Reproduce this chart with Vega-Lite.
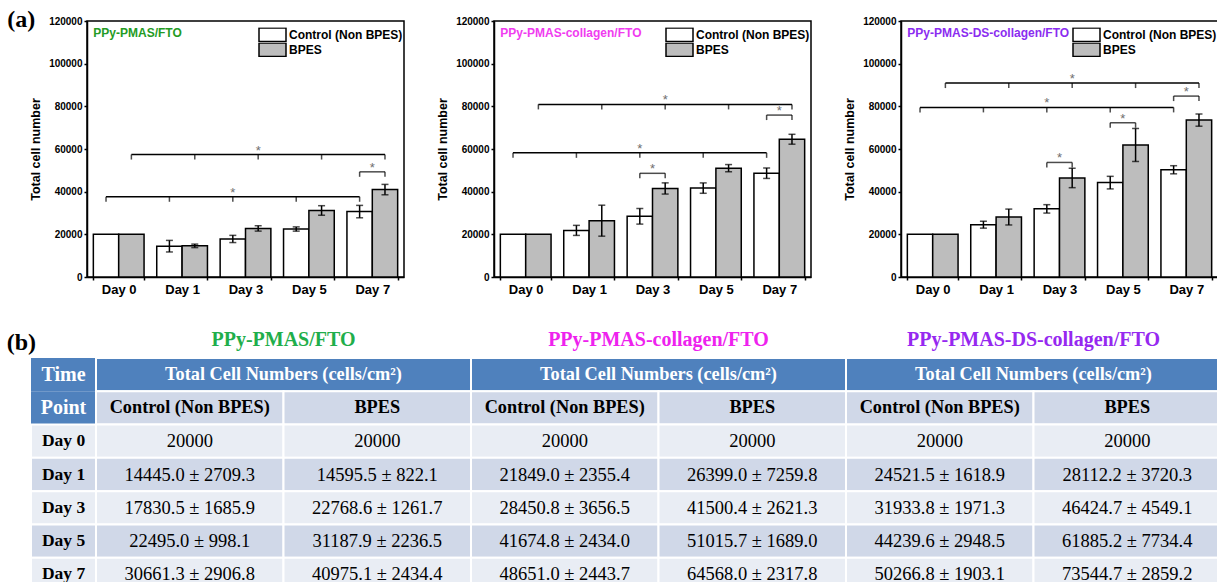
{
  "$schema": "https://vega.github.io/schema/vega-lite/v6.json",
  "background": "white",
  "padding": {"left": 6, "top": 7, "right": 0, "bottom": 0},
  "config": {
    "view": {"stroke": "black", "strokeWidth": 1.5},
    "font": "Liberation Sans",
    "axis": {"labelFont": "Liberation Sans", "labelFontWeight": "bold", "labelColor": "black", "titleFont": "Liberation Sans", "titleFontWeight": "bold", "titleColor": "black", "domainColor": "black", "tickColor": "black", "grid": false},
    "legend": {"title": null, "orient": "none", "legendX": 171, "legendY": 6.5, "symbolType": "M-1,-0.5H1V0.5H-1Z", "symbolSize": 729, "symbolStrokeColor": "black", "symbolStrokeWidth": 1.5, "labelFont": "Liberation Sans", "labelFontWeight": "bold", "labelFontSize": 12, "labelColor": "black", "rowPadding": 0, "clipHeight": 14.5, "labelOffset": 2}
  },
  "datasets": {
    "bars": [
      {"panel": "P1", "Day": "Day 0", "Group": "Control (Non BPES)", "mean": 20000, "sd": 0},
      {"panel": "P1", "Day": "Day 0", "Group": "BPES", "mean": 20000, "sd": 0},
      {"panel": "P1", "Day": "Day 1", "Group": "Control (Non BPES)", "mean": 14445.0, "sd": 2709.3},
      {"panel": "P1", "Day": "Day 1", "Group": "BPES", "mean": 14595.5, "sd": 822.1},
      {"panel": "P1", "Day": "Day 3", "Group": "Control (Non BPES)", "mean": 17830.5, "sd": 1685.9},
      {"panel": "P1", "Day": "Day 3", "Group": "BPES", "mean": 22768.6, "sd": 1261.7},
      {"panel": "P1", "Day": "Day 5", "Group": "Control (Non BPES)", "mean": 22495.0, "sd": 998.1},
      {"panel": "P1", "Day": "Day 5", "Group": "BPES", "mean": 31187.9, "sd": 2236.5},
      {"panel": "P1", "Day": "Day 7", "Group": "Control (Non BPES)", "mean": 30661.3, "sd": 2906.8},
      {"panel": "P1", "Day": "Day 7", "Group": "BPES", "mean": 40975.1, "sd": 2434.4},
      {"panel": "P2", "Day": "Day 0", "Group": "Control (Non BPES)", "mean": 20000, "sd": 0},
      {"panel": "P2", "Day": "Day 0", "Group": "BPES", "mean": 20000, "sd": 0},
      {"panel": "P2", "Day": "Day 1", "Group": "Control (Non BPES)", "mean": 21849.0, "sd": 2355.4},
      {"panel": "P2", "Day": "Day 1", "Group": "BPES", "mean": 26399.0, "sd": 7259.8},
      {"panel": "P2", "Day": "Day 3", "Group": "Control (Non BPES)", "mean": 28450.8, "sd": 3656.5},
      {"panel": "P2", "Day": "Day 3", "Group": "BPES", "mean": 41500.4, "sd": 2621.3},
      {"panel": "P2", "Day": "Day 5", "Group": "Control (Non BPES)", "mean": 41674.8, "sd": 2434.0},
      {"panel": "P2", "Day": "Day 5", "Group": "BPES", "mean": 51015.7, "sd": 1689.0},
      {"panel": "P2", "Day": "Day 7", "Group": "Control (Non BPES)", "mean": 48651.0, "sd": 2443.7},
      {"panel": "P2", "Day": "Day 7", "Group": "BPES", "mean": 64568.0, "sd": 2317.8},
      {"panel": "P3", "Day": "Day 0", "Group": "Control (Non BPES)", "mean": 20000, "sd": 0},
      {"panel": "P3", "Day": "Day 0", "Group": "BPES", "mean": 20000, "sd": 0},
      {"panel": "P3", "Day": "Day 1", "Group": "Control (Non BPES)", "mean": 24521.5, "sd": 1618.9},
      {"panel": "P3", "Day": "Day 1", "Group": "BPES", "mean": 28112.2, "sd": 3720.3},
      {"panel": "P3", "Day": "Day 3", "Group": "Control (Non BPES)", "mean": 31933.8, "sd": 1971.3},
      {"panel": "P3", "Day": "Day 3", "Group": "BPES", "mean": 46424.7, "sd": 4549.1},
      {"panel": "P3", "Day": "Day 5", "Group": "Control (Non BPES)", "mean": 44239.6, "sd": 2948.5},
      {"panel": "P3", "Day": "Day 5", "Group": "BPES", "mean": 61885.2, "sd": 7734.4},
      {"panel": "P3", "Day": "Day 7", "Group": "Control (Non BPES)", "mean": 50266.8, "sd": 1903.1},
      {"panel": "P3", "Day": "Day 7", "Group": "BPES", "mean": 73544.7, "sd": 2859.2}
    ],
    "brackets": [
      {"panel": "P1", "Group": "Control (Non BPES)", "from": "Day 0", "to": "Day 7", "star": "Day 3", "y": 37600, "days": ["Day 0", "Day 1", "Day 3", "Day 5", "Day 7"]},
      {"panel": "P1", "Group": "BPES", "from": "Day 0", "to": "Day 7", "star": "Day 3", "y": 57400, "days": ["Day 0", "Day 1", "Day 3", "Day 5", "Day 7"]},
      {"panel": "P2", "Group": "Control (Non BPES)", "from": "Day 0", "to": "Day 7", "star": "Day 3", "y": 58200, "days": ["Day 0", "Day 1", "Day 3", "Day 5", "Day 7"]},
      {"panel": "P2", "Group": "BPES", "from": "Day 0", "to": "Day 7", "star": "Day 3", "y": 80900, "days": ["Day 0", "Day 1", "Day 3", "Day 5", "Day 7"]},
      {"panel": "P3", "Group": "Control (Non BPES)", "from": "Day 0", "to": "Day 7", "star": "Day 3", "y": 79500, "days": ["Day 0", "Day 1", "Day 3", "Day 5", "Day 7"]},
      {"panel": "P3", "Group": "BPES", "from": "Day 0", "to": "Day 7", "star": "Day 3", "y": 90900, "days": ["Day 0", "Day 1", "Day 3", "Day 5", "Day 7"]}
    ],
    "pairs": [
      {"panel": "P1", "Day": "Day 7", "y": 49300, "groups": ["Control (Non BPES)", "BPES"]},
      {"panel": "P2", "Day": "Day 3", "y": 48600, "groups": ["Control (Non BPES)", "BPES"]},
      {"panel": "P2", "Day": "Day 7", "y": 75900, "groups": ["Control (Non BPES)", "BPES"]},
      {"panel": "P3", "Day": "Day 3", "y": 53700, "groups": ["Control (Non BPES)", "BPES"]},
      {"panel": "P3", "Day": "Day 5", "y": 72300, "groups": ["Control (Non BPES)", "BPES"]},
      {"panel": "P3", "Day": "Day 7", "y": 84800, "groups": ["Control (Non BPES)", "BPES"]}
    ],
    "titles": [
      {"panel": "P1", "t": "PPy-PMAS/FTO"},
      {"panel": "P2", "t": "PPy-PMAS-collagen/FTO"},
      {"panel": "P3", "t": "PPy-PMAS-DS-collagen/FTO"}
    ],
    "tcol": [
      {"row": "H1", "t": "Time"},
      {"row": "H2", "t": "Point"},
      {"row": "Day 0", "t": "Day 0"},
      {"row": "Day 1", "t": "Day 1"},
      {"row": "Day 3", "t": "Day 3"},
      {"row": "Day 5", "t": "Day 5"},
      {"row": "Day 7", "t": "Day 7"}
    ]
  },
  "vconcat": [
    {
      "hconcat": [
        {
          "width": 56, "height": 256,
          "view": {"stroke": null},
          "data": {"values": []},
          "mark": "point"
        },
        {
          "hconcat": [
            {
              "width": 317, "height": 256,
              "layer": [
                {
                  "data": {"name": "bars"}, "transform": [{"filter": "datum.panel === 'P1'"}],
                  "mark": {"type": "bar", "stroke": "black", "strokeWidth": 1.5},
                  "encoding": {
                    "x": {"field": "Day", "type": "nominal", "scale": {"domain": ["Day 0", "Day 1", "Day 3", "Day 5", "Day 7"], "paddingInner": 0.2, "paddingOuter": 0.1}, "axis": {"title": null, "labelAngle": 0, "labelFontSize": 13, "labelPadding": 3, "tickBand": "extent", "tickSize": 3, "tickWidth": 1.5, "domainWidth": 1.5}},
                    "xOffset": {"field": "Group", "type": "nominal", "scale": {"domain": ["Control (Non BPES)", "BPES"], "paddingInner": 0, "paddingOuter": 0}},
                    "y": {"field": "mean", "type": "quantitative", "title": "Total cell number", "scale": {"domain": [0, 120000], "nice": false}, "axis": {"title": "Total cell number", "values": [0, 20000, 40000, 60000, 80000, 100000, 120000], "format": "d", "labelFontSize": 10, "titleFontSize": 12.5, "tickSize": 3, "tickWidth": 1.5, "labelPadding": 2, "titlePadding": 6, "domainWidth": 1.5}},
                    "fill": {"field": "Group", "type": "nominal", "scale": {"domain": ["Control (Non BPES)", "BPES"], "range": ["white", "#bdbdbd"]}, "legend": {}}
                  }
                },
                {
                  "data": {"name": "bars"}, "transform": [{"filter": "datum.panel === 'P1' && datum.sd > 0"}],
                  "mark": {"type": "errorbar", "ticks": true, "color": "black", "thickness": 1.5, "size": 7},
                  "encoding": {"x": {"field": "Day", "type": "nominal"}, "xOffset": {"field": "Group", "type": "nominal"}, "y": {"field": "mean", "type": "quantitative", "title": "Total cell number"}, "yError": {"field": "sd"}}
                },
                {
                  "data": {"name": "brackets"}, "transform": [{"filter": "datum.panel === 'P1' && datum.Group !== 'BPES'"}],
                  "mark": {"type": "rule", "color": "black", "strokeWidth": 1.5},
                  "encoding": {"x": {"field": "from", "type": "nominal", "bandPosition": 0.25}, "x2": {"field": "to", "bandPosition": 0.25}, "y": {"field": "y", "type": "quantitative"}}
                },
                {
                  "data": {"name": "brackets"}, "transform": [{"filter": "datum.panel === 'P1' && datum.Group === 'BPES'"}],
                  "mark": {"type": "rule", "color": "black", "strokeWidth": 1.5},
                  "encoding": {"x": {"field": "from", "type": "nominal", "bandPosition": 0.75}, "x2": {"field": "to", "bandPosition": 0.75}, "y": {"field": "y", "type": "quantitative"}}
                },
                {
                  "data": {"name": "brackets"}, "transform": [{"filter": "datum.panel === 'P1'"}, {"flatten": ["days"]}],
                  "mark": {"type": "tick", "orient": "vertical", "color": "black", "size": 5, "thickness": 1.5, "yOffset": 2.5},
                  "encoding": {"x": {"field": "days", "type": "nominal"}, "xOffset": {"field": "Group", "type": "nominal"}, "y": {"field": "y", "type": "quantitative"}}
                },
                {
                  "data": {"name": "pairs"}, "transform": [{"filter": "datum.panel === 'P1'"}],
                  "mark": {"type": "tick", "orient": "horizontal", "color": "black", "size": 25.4, "thickness": 1.5},
                  "encoding": {"x": {"field": "Day", "type": "nominal"}, "y": {"field": "y", "type": "quantitative"}}
                },
                {
                  "data": {"name": "pairs"}, "transform": [{"filter": "datum.panel === 'P1'"}, {"flatten": ["groups"]}],
                  "mark": {"type": "tick", "orient": "vertical", "color": "black", "size": 5, "thickness": 1.5, "yOffset": 2.5},
                  "encoding": {"x": {"field": "Day", "type": "nominal"}, "xOffset": {"field": "groups", "type": "nominal"}, "y": {"field": "y", "type": "quantitative"}}
                },
                {
                  "data": {"name": "brackets"}, "transform": [{"filter": "datum.panel === 'P1'"}],
                  "mark": {"type": "text", "text": "*", "fontSize": 13, "color": "#6e6e6e", "baseline": "alphabetic"},
                  "encoding": {"x": {"field": "star", "type": "nominal"}, "xOffset": {"field": "Group", "type": "nominal"}, "y": {"field": "y", "type": "quantitative"}}
                },
                {
                  "data": {"name": "pairs"}, "transform": [{"filter": "datum.panel === 'P1'"}],
                  "mark": {"type": "text", "text": "*", "fontSize": 13, "color": "#6e6e6e", "baseline": "alphabetic"},
                  "encoding": {"x": {"field": "Day", "type": "nominal"}, "y": {"field": "y", "type": "quantitative"}}
                },
                {
                  "data": {"name": "titles"}, "transform": [{"filter": "datum.panel === 'P1'"}],
                  "mark": {"type": "text", "align": "left", "baseline": "top", "font": "Liberation Sans", "fontWeight": "bold", "fontSize": 12, "color": "#249b24", "dy": 7},
                  "encoding": {"x": {"datum": "Day 0", "type": "nominal", "bandPosition": 0}, "y": {"datum": 120000, "type": "quantitative"}, "text": {"field": "t"}}
                },
                {
                  "data": {"values": [{"t": "(a)"}]},
                  "mark": {"type": "text", "align": "right", "baseline": "alphabetic", "font": "Liberation Serif", "fontWeight": "bold", "fontSize": 24, "color": "black", "dx": -58, "dy": 6},
                  "encoding": {"x": {"datum": "Day 0", "type": "nominal", "bandPosition": 0}, "y": {"datum": 120000, "type": "quantitative"}, "text": {"field": "t"}}
                }
              ]
            },
            {
              "width": 317, "height": 256,
              "layer": [
                {
                  "data": {"name": "bars"}, "transform": [{"filter": "datum.panel === 'P2'"}],
                  "mark": {"type": "bar", "stroke": "black", "strokeWidth": 1.5},
                  "encoding": {
                    "x": {"field": "Day", "type": "nominal", "scale": {"domain": ["Day 0", "Day 1", "Day 3", "Day 5", "Day 7"], "paddingInner": 0.2, "paddingOuter": 0.1}, "axis": {"title": null, "labelAngle": 0, "labelFontSize": 13, "labelPadding": 3, "tickBand": "extent", "tickSize": 3, "tickWidth": 1.5, "domainWidth": 1.5}},
                    "xOffset": {"field": "Group", "type": "nominal", "scale": {"domain": ["Control (Non BPES)", "BPES"], "paddingInner": 0, "paddingOuter": 0}},
                    "y": {"field": "mean", "type": "quantitative", "title": "Total cell number", "scale": {"domain": [0, 120000], "nice": false}, "axis": {"title": "Total cell number", "values": [0, 20000, 40000, 60000, 80000, 100000, 120000], "format": "d", "labelFontSize": 10, "titleFontSize": 12.5, "tickSize": 3, "tickWidth": 1.5, "labelPadding": 2, "titlePadding": 6, "domainWidth": 1.5}},
                    "fill": {"field": "Group", "type": "nominal", "scale": {"domain": ["Control (Non BPES)", "BPES"], "range": ["white", "#bdbdbd"]}, "legend": {}}
                  }
                },
                {
                  "data": {"name": "bars"}, "transform": [{"filter": "datum.panel === 'P2' && datum.sd > 0"}],
                  "mark": {"type": "errorbar", "ticks": true, "color": "black", "thickness": 1.5, "size": 7},
                  "encoding": {"x": {"field": "Day", "type": "nominal"}, "xOffset": {"field": "Group", "type": "nominal"}, "y": {"field": "mean", "type": "quantitative", "title": "Total cell number"}, "yError": {"field": "sd"}}
                },
                {
                  "data": {"name": "brackets"}, "transform": [{"filter": "datum.panel === 'P2' && datum.Group !== 'BPES'"}],
                  "mark": {"type": "rule", "color": "black", "strokeWidth": 1.5},
                  "encoding": {"x": {"field": "from", "type": "nominal", "bandPosition": 0.25}, "x2": {"field": "to", "bandPosition": 0.25}, "y": {"field": "y", "type": "quantitative"}}
                },
                {
                  "data": {"name": "brackets"}, "transform": [{"filter": "datum.panel === 'P2' && datum.Group === 'BPES'"}],
                  "mark": {"type": "rule", "color": "black", "strokeWidth": 1.5},
                  "encoding": {"x": {"field": "from", "type": "nominal", "bandPosition": 0.75}, "x2": {"field": "to", "bandPosition": 0.75}, "y": {"field": "y", "type": "quantitative"}}
                },
                {
                  "data": {"name": "brackets"}, "transform": [{"filter": "datum.panel === 'P2'"}, {"flatten": ["days"]}],
                  "mark": {"type": "tick", "orient": "vertical", "color": "black", "size": 5, "thickness": 1.5, "yOffset": 2.5},
                  "encoding": {"x": {"field": "days", "type": "nominal"}, "xOffset": {"field": "Group", "type": "nominal"}, "y": {"field": "y", "type": "quantitative"}}
                },
                {
                  "data": {"name": "pairs"}, "transform": [{"filter": "datum.panel === 'P2'"}],
                  "mark": {"type": "tick", "orient": "horizontal", "color": "black", "size": 25.4, "thickness": 1.5},
                  "encoding": {"x": {"field": "Day", "type": "nominal"}, "y": {"field": "y", "type": "quantitative"}}
                },
                {
                  "data": {"name": "pairs"}, "transform": [{"filter": "datum.panel === 'P2'"}, {"flatten": ["groups"]}],
                  "mark": {"type": "tick", "orient": "vertical", "color": "black", "size": 5, "thickness": 1.5, "yOffset": 2.5},
                  "encoding": {"x": {"field": "Day", "type": "nominal"}, "xOffset": {"field": "groups", "type": "nominal"}, "y": {"field": "y", "type": "quantitative"}}
                },
                {
                  "data": {"name": "brackets"}, "transform": [{"filter": "datum.panel === 'P2'"}],
                  "mark": {"type": "text", "text": "*", "fontSize": 13, "color": "#6e6e6e", "baseline": "alphabetic"},
                  "encoding": {"x": {"field": "star", "type": "nominal"}, "xOffset": {"field": "Group", "type": "nominal"}, "y": {"field": "y", "type": "quantitative"}}
                },
                {
                  "data": {"name": "pairs"}, "transform": [{"filter": "datum.panel === 'P2'"}],
                  "mark": {"type": "text", "text": "*", "fontSize": 13, "color": "#6e6e6e", "baseline": "alphabetic"},
                  "encoding": {"x": {"field": "Day", "type": "nominal"}, "y": {"field": "y", "type": "quantitative"}}
                },
                {
                  "data": {"name": "titles"}, "transform": [{"filter": "datum.panel === 'P2'"}],
                  "mark": {"type": "text", "align": "left", "baseline": "top", "font": "Liberation Sans", "fontWeight": "bold", "fontSize": 12, "color": "#f03cf0", "dy": 7},
                  "encoding": {"x": {"datum": "Day 0", "type": "nominal", "bandPosition": 0}, "y": {"datum": 120000, "type": "quantitative"}, "text": {"field": "t"}}
                }
              ]
            },
            {
              "width": 317, "height": 256,
              "layer": [
                {
                  "data": {"name": "bars"}, "transform": [{"filter": "datum.panel === 'P3'"}],
                  "mark": {"type": "bar", "stroke": "black", "strokeWidth": 1.5},
                  "encoding": {
                    "x": {"field": "Day", "type": "nominal", "scale": {"domain": ["Day 0", "Day 1", "Day 3", "Day 5", "Day 7"], "paddingInner": 0.2, "paddingOuter": 0.1}, "axis": {"title": null, "labelAngle": 0, "labelFontSize": 13, "labelPadding": 3, "tickBand": "extent", "tickSize": 3, "tickWidth": 1.5, "domainWidth": 1.5}},
                    "xOffset": {"field": "Group", "type": "nominal", "scale": {"domain": ["Control (Non BPES)", "BPES"], "paddingInner": 0, "paddingOuter": 0}},
                    "y": {"field": "mean", "type": "quantitative", "title": "Total cell number", "scale": {"domain": [0, 120000], "nice": false}, "axis": {"title": "Total cell number", "values": [0, 20000, 40000, 60000, 80000, 100000, 120000], "format": "d", "labelFontSize": 10, "titleFontSize": 12.5, "tickSize": 3, "tickWidth": 1.5, "labelPadding": 2, "titlePadding": 6, "domainWidth": 1.5}},
                    "fill": {"field": "Group", "type": "nominal", "scale": {"domain": ["Control (Non BPES)", "BPES"], "range": ["white", "#bdbdbd"]}, "legend": {}}
                  }
                },
                {
                  "data": {"name": "bars"}, "transform": [{"filter": "datum.panel === 'P3' && datum.sd > 0"}],
                  "mark": {"type": "errorbar", "ticks": true, "color": "black", "thickness": 1.5, "size": 7},
                  "encoding": {"x": {"field": "Day", "type": "nominal"}, "xOffset": {"field": "Group", "type": "nominal"}, "y": {"field": "mean", "type": "quantitative", "title": "Total cell number"}, "yError": {"field": "sd"}}
                },
                {
                  "data": {"name": "brackets"}, "transform": [{"filter": "datum.panel === 'P3' && datum.Group !== 'BPES'"}],
                  "mark": {"type": "rule", "color": "black", "strokeWidth": 1.5},
                  "encoding": {"x": {"field": "from", "type": "nominal", "bandPosition": 0.25}, "x2": {"field": "to", "bandPosition": 0.25}, "y": {"field": "y", "type": "quantitative"}}
                },
                {
                  "data": {"name": "brackets"}, "transform": [{"filter": "datum.panel === 'P3' && datum.Group === 'BPES'"}],
                  "mark": {"type": "rule", "color": "black", "strokeWidth": 1.5},
                  "encoding": {"x": {"field": "from", "type": "nominal", "bandPosition": 0.75}, "x2": {"field": "to", "bandPosition": 0.75}, "y": {"field": "y", "type": "quantitative"}}
                },
                {
                  "data": {"name": "brackets"}, "transform": [{"filter": "datum.panel === 'P3'"}, {"flatten": ["days"]}],
                  "mark": {"type": "tick", "orient": "vertical", "color": "black", "size": 5, "thickness": 1.5, "yOffset": 2.5},
                  "encoding": {"x": {"field": "days", "type": "nominal"}, "xOffset": {"field": "Group", "type": "nominal"}, "y": {"field": "y", "type": "quantitative"}}
                },
                {
                  "data": {"name": "pairs"}, "transform": [{"filter": "datum.panel === 'P3'"}],
                  "mark": {"type": "tick", "orient": "horizontal", "color": "black", "size": 25.4, "thickness": 1.5},
                  "encoding": {"x": {"field": "Day", "type": "nominal"}, "y": {"field": "y", "type": "quantitative"}}
                },
                {
                  "data": {"name": "pairs"}, "transform": [{"filter": "datum.panel === 'P3'"}, {"flatten": ["groups"]}],
                  "mark": {"type": "tick", "orient": "vertical", "color": "black", "size": 5, "thickness": 1.5, "yOffset": 2.5},
                  "encoding": {"x": {"field": "Day", "type": "nominal"}, "xOffset": {"field": "groups", "type": "nominal"}, "y": {"field": "y", "type": "quantitative"}}
                },
                {
                  "data": {"name": "brackets"}, "transform": [{"filter": "datum.panel === 'P3'"}],
                  "mark": {"type": "text", "text": "*", "fontSize": 13, "color": "#6e6e6e", "baseline": "alphabetic"},
                  "encoding": {"x": {"field": "star", "type": "nominal"}, "xOffset": {"field": "Group", "type": "nominal"}, "y": {"field": "y", "type": "quantitative"}}
                },
                {
                  "data": {"name": "pairs"}, "transform": [{"filter": "datum.panel === 'P3'"}],
                  "mark": {"type": "text", "text": "*", "fontSize": 13, "color": "#6e6e6e", "baseline": "alphabetic"},
                  "encoding": {"x": {"field": "Day", "type": "nominal"}, "y": {"field": "y", "type": "quantitative"}}
                },
                {
                  "data": {"name": "titles"}, "transform": [{"filter": "datum.panel === 'P3'"}],
                  "mark": {"type": "text", "align": "left", "baseline": "top", "font": "Liberation Sans", "fontWeight": "bold", "fontSize": 12, "color": "#8b2cf0", "dy": 7},
                  "encoding": {"x": {"datum": "Day 0", "type": "nominal", "bandPosition": 0}, "y": {"datum": 120000, "type": "quantitative"}, "text": {"field": "t"}}
                }
              ]
            }
          ],
          "spacing": 90,
          "bounds": "flush",
          "resolve": {"scale": {"fill": "independent", "xOffset": "independent"}, "legend": {"fill": "independent"}}
        }
      ],
      "spacing": 0,
      "bounds": "flush",
      "resolve": {"scale": {"fill": "independent", "xOffset": "independent"}, "legend": {"fill": "independent"}}
    },
    {
      "hconcat": [
        {
          "width": 65, "height": 233,
          "view": {"stroke": null},
          "layer": [
            {
              "data": {"name": "tcol"}, "transform": [{"filter": "datum.row === 'H1' || datum.row === 'H2'"}],
              "mark": {"type": "rect", "fill": "#4f81bd"},
              "encoding": {"y": {"field": "row", "type": "nominal", "scale": {"domain": ["H1", "H2", "Day 0", "Day 1", "Day 3", "Day 5", "Day 7"], "paddingInner": 0, "paddingOuter": 0}, "axis": null}}
            },
            {
              "data": {"name": "tcol"}, "transform": [{"filter": "datum.row !== 'H1' && datum.row !== 'H2'"}],
              "mark": {"type": "rect", "stroke": "white", "strokeWidth": 2},
              "encoding": {
                "y": {"field": "row", "type": "nominal"},
                "fill": {"condition": {"test": "datum.row === 'Day 1' || datum.row === 'Day 5'", "value": "#d0d8e8"}, "value": "#e9edf4"}
              }
            },
            {
              "data": {"name": "tcol"}, "transform": [{"filter": "datum.row === 'H1' || datum.row === 'H2'"}],
              "mark": {"type": "text", "font": "Liberation Serif", "fontWeight": "bold", "fontSize": 20, "color": "white"},
              "encoding": {"y": {"field": "row", "type": "nominal"}, "text": {"field": "t"}}
            },
            {
              "data": {"name": "tcol"}, "transform": [{"filter": "datum.row !== 'H1' && datum.row !== 'H2'"}],
              "mark": {"type": "text", "font": "Liberation Serif", "fontWeight": "bold", "fontSize": 17.5, "color": "black"},
              "encoding": {"y": {"field": "row", "type": "nominal"}, "text": {"field": "t"}}
            },
            {
              "data": {"values": [{"t": "(b)"}]},
              "mark": {"type": "text", "align": "right", "baseline": "alphabetic", "font": "Liberation Serif", "fontWeight": "bold", "fontSize": 24, "color": "black", "dx": -27.5, "dy": -8},
              "encoding": {"y": {"datum": "H1", "type": "nominal", "bandPosition": 0}, "text": {"field": "t"}}
            }
          ]
        },
        {
          "width": 1125, "height": 233,
          "view": {"stroke": null},
          "layer": [
            {
              "data": {"name": "titles"},
              "mark": {"type": "rect", "fill": "#4f81bd", "stroke": "white", "strokeWidth": 2},
              "encoding": {
                "x": {"field": "panel", "type": "nominal", "scale": {"domain": ["P1", "P2", "P3"], "paddingInner": 0, "paddingOuter": 0}, "axis": null},
                "y": {"datum": "H1", "type": "nominal", "scale": {"domain": ["H1", "H2", "Day 0", "Day 1", "Day 3", "Day 5", "Day 7"], "paddingInner": 0, "paddingOuter": 0}, "axis": null}
              }
            },
            {
              "data": {"name": "titles"},
              "mark": {"type": "text", "text": "Total Cell Numbers (cells/cm²)", "font": "Liberation Serif", "fontWeight": "bold", "fontSize": 18.3, "color": "white"},
              "encoding": {"x": {"field": "panel", "type": "nominal"}, "y": {"datum": "H1", "type": "nominal"}}
            },
            {
              "data": {"name": "titles"},
              "mark": {"type": "text", "font": "Liberation Serif", "fontWeight": "bold", "fontSize": 20, "baseline": "alphabetic", "dy": -12},
              "encoding": {
                "x": {"field": "panel", "type": "nominal"},
                "y": {"datum": "H1", "type": "nominal", "bandPosition": 0},
                "text": {"field": "t"},
                "color": {"condition": [{"test": "datum.panel === 'P1'", "value": "#1fae4b"}, {"test": "datum.panel === 'P2'", "value": "#ee22ee"}], "value": "#9628f0"}
              }
            },
            {
              "data": {"name": "bars"}, "transform": [{"filter": "datum.Day === 'Day 0'"}],
              "mark": {"type": "rect", "fill": "#d0d8e8", "stroke": "white", "strokeWidth": 2},
              "encoding": {
                "x": {"field": "panel", "type": "nominal"},
                "xOffset": {"field": "Group", "type": "nominal", "scale": {"domain": ["Control (Non BPES)", "BPES"], "paddingInner": 0, "paddingOuter": 0}},
                "y": {"datum": "H2", "type": "nominal"}
              }
            },
            {
              "data": {"name": "bars"}, "transform": [{"filter": "datum.Day === 'Day 0'"}],
              "mark": {"type": "text", "font": "Liberation Serif", "fontWeight": "bold", "fontSize": 18.3, "color": "black"},
              "encoding": {
                "x": {"field": "panel", "type": "nominal"},
                "xOffset": {"field": "Group", "type": "nominal"},
                "y": {"datum": "H2", "type": "nominal"},
                "text": {"field": "Group"}
              }
            },
            {
              "data": {"name": "bars"},
              "mark": {"type": "rect", "stroke": "white", "strokeWidth": 2},
              "encoding": {
                "x": {"field": "panel", "type": "nominal"},
                "xOffset": {"field": "Group", "type": "nominal"},
                "y": {"field": "Day", "type": "nominal"},
                "fill": {"condition": {"test": "datum.Day === 'Day 1' || datum.Day === 'Day 5'", "value": "#d0d8e8"}, "value": "#e9edf4"}
              }
            },
            {
              "data": {"name": "bars"},
              "transform": [{"calculate": "datum.sd > 0 ? format(datum.mean, '.1f') + ' ± ' + format(datum.sd, '.1f') : format(datum.mean, 'd')", "as": "label"}],
              "mark": {"type": "text", "font": "Liberation Serif", "fontSize": 18.5, "color": "black"},
              "encoding": {
                "x": {"field": "panel", "type": "nominal"},
                "xOffset": {"field": "Group", "type": "nominal"},
                "y": {"field": "Day", "type": "nominal"},
                "text": {"field": "label"}
              }
            }
          ]
        }
      ],
      "spacing": 0,
      "bounds": "flush"
    }
  ],
  "spacing": 33,
  "resolve": {"scale": {"xOffset": "independent"}}
}
